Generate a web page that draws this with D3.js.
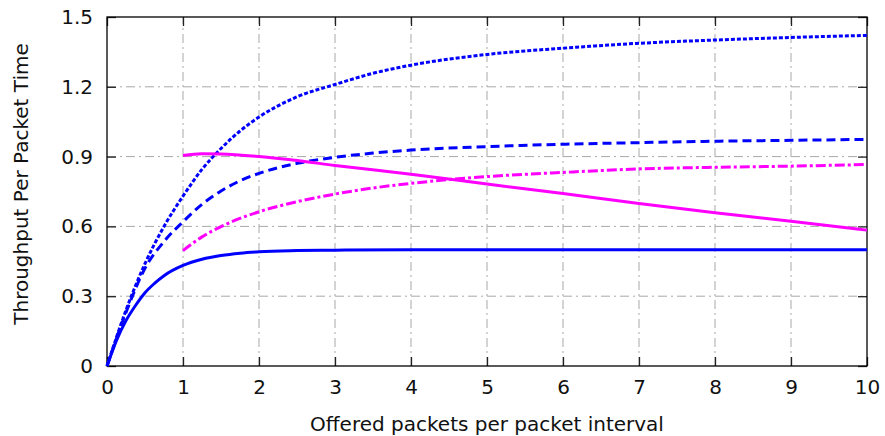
<!DOCTYPE html>
<html><head><meta charset="utf-8">
<script src="https://cdn.jsdelivr.net/npm/d3@7"></script>
<style>
html,body{margin:0;padding:0;background:#fff;}
svg{display:block;font-family:"DejaVu Sans",sans-serif;}
</style></head>
<body>
<svg id="chart" width="885" height="436"></svg>
<script>
// ---- data ----
const xTicks = [0,1,2,3,4,5,6,7,8,9,10];
const yTicks = [0,0.3,0.6,0.9,1.2,1.5];
const yTickLabels = ["0","0.3","0.6","0.9","1.2","1.5"];
const xTitle = "Offered packets per packet interval";
const yTitle = "Throughput Per Packet Time";

const blueSolidX = [0,0.125,0.25,0.375,0.5,0.625,0.75,1,1.25,1.5,1.75,2,2.5,3,4,5,6,7,8,9,10];
const blueSolidY = [0,0.11,0.195,0.26,0.315,0.355,0.388,0.432,0.459,0.475,0.485,0.491,0.496,0.498,0.5,0.5,0.5,0.5,0.5,0.5,0.5];

const blueDashX = [0,0.25,0.5,0.75,1,1.25,1.5,1.75,2,2.5,3,3.5,4,5,6,7,8,9,10];
const blueDashY = [0,0.23,0.42,0.535,0.62,0.695,0.752,0.796,0.828,0.871,0.897,0.915,0.928,0.943,0.953,0.96,0.966,0.970,0.974];

const blueDotX = [0,0.25,0.5,0.75,1,1.25,1.5,1.75,2,2.5,3,3.5,4,5,6,7,8,9,10];
const blueDotY = [0,0.24,0.44,0.60,0.73,0.845,0.935,1.01,1.07,1.157,1.21,1.258,1.293,1.339,1.366,1.387,1.401,1.412,1.421];

const magSolidX = [1,1.25,1.5,2,2.5,3,4,5,6,7,8,9,10];
const magSolidY = [0.905,0.912,0.911,0.9,0.883,0.862,0.824,0.782,0.741,0.698,0.659,0.622,0.584];

const magDashDotX = [1,1.25,1.5,2,2.5,3,3.5,4,5,6,7,8,9,10];
const magDashDotY = [0.496,0.555,0.599,0.663,0.706,0.739,0.765,0.785,0.814,0.832,0.847,0.854,0.859,0.866];

const series = [
  {x: blueSolidX, y: blueSolidY, color: "#0000ff", dash: null},
  {x: blueDashX, y: blueDashY, color: "#0000ff", dash: "9,5"},
  {x: blueDotX, y: blueDotY, color: "#0000ff", dash: "4,2"},
  {x: magSolidX, y: magSolidY, color: "#ff00ff", dash: null},
  {x: magDashDotX, y: magDashDotY, color: "#ff00ff", dash: "10,3,3,3"}
];

// ---- layout ----
const svg = d3.select("#chart");
const L = 107, R = 867, T = 17, B = 366;
const x = d3.scaleLinear().domain([0,10]).range([L,R]);
const y = d3.scaleLinear().domain([0,1.5]).range([B,T]);
const FS = 20;

// grid
const grid = svg.append("g").attr("stroke","#a8a8a8").attr("stroke-width",1).attr("stroke-dasharray","9,4,2,4").attr("fill","none");
xTicks.slice(1,-1).forEach(t=>{
  grid.append("line").attr("x1",x(t)).attr("x2",x(t)).attr("y1",B).attr("y2",T);
});
yTicks.slice(1,-1).forEach(t=>{
  grid.append("line").attr("x1",L).attr("x2",R).attr("y1",y(t)).attr("y2",y(t));
});

// axes (ticks inward)
const tl = 9;
const axB = svg.append("g").attr("transform",`translate(0,${B})`)
  .call(d3.axisBottom(x).tickValues(xTicks).tickSize(-tl).tickPadding(14).tickFormat(d3.format("d")));
const axT = svg.append("g").attr("transform",`translate(0,${T})`)
  .call(d3.axisTop(x).tickValues(xTicks).tickSize(-tl).tickFormat(""));
const axL = svg.append("g").attr("transform",`translate(${L},0)`)
  .call(d3.axisLeft(y).tickValues(yTicks).tickSize(-tl).tickPadding(14).tickFormat((d,i)=>yTickLabels[i]));
const axR = svg.append("g").attr("transform",`translate(${R},0)`)
  .call(d3.axisRight(y).tickValues(yTicks).tickSize(-tl).tickFormat(""));
[axB,axT,axL,axR].forEach(a=>{
  a.select(".domain").remove();
  a.selectAll(".tick line").attr("stroke","#222").attr("stroke-width",1.3);
  a.selectAll("text").attr("font-size",FS).attr("fill","#111").attr("font-family","DejaVu Sans, sans-serif");
});
axB.selectAll("text").attr("dy","0.71em");

// frame
svg.append("rect").attr("x",L).attr("y",T).attr("width",R-L).attr("height",B-T)
  .attr("fill","none").attr("stroke","#000").attr("stroke-width",1.3);

// curves
const line = d3.line().x(d=>x(d[0])).y(d=>y(d[1])).curve(d3.curveMonotoneX);
series.forEach(s=>{
  const pts = s.x.map((v,i)=>[v,s.y[i]]);
  const p = svg.append("path").datum(pts).attr("d",line)
    .attr("fill","none").attr("stroke",s.color).attr("stroke-width",3)
    .attr("stroke-linejoin","round");
  if (s.dash) p.attr("stroke-dasharray",s.dash);
});

// titles
svg.append("text").attr("x",(L+R)/2).attr("y",431).attr("text-anchor","middle")
  .attr("font-size",FS).attr("fill","#111").text(xTitle);
svg.append("text").attr("transform",`translate(28,184) rotate(-90)`).attr("text-anchor","middle")
  .attr("font-size",FS).attr("fill","#111").text(yTitle);
</script>
</body></html>
